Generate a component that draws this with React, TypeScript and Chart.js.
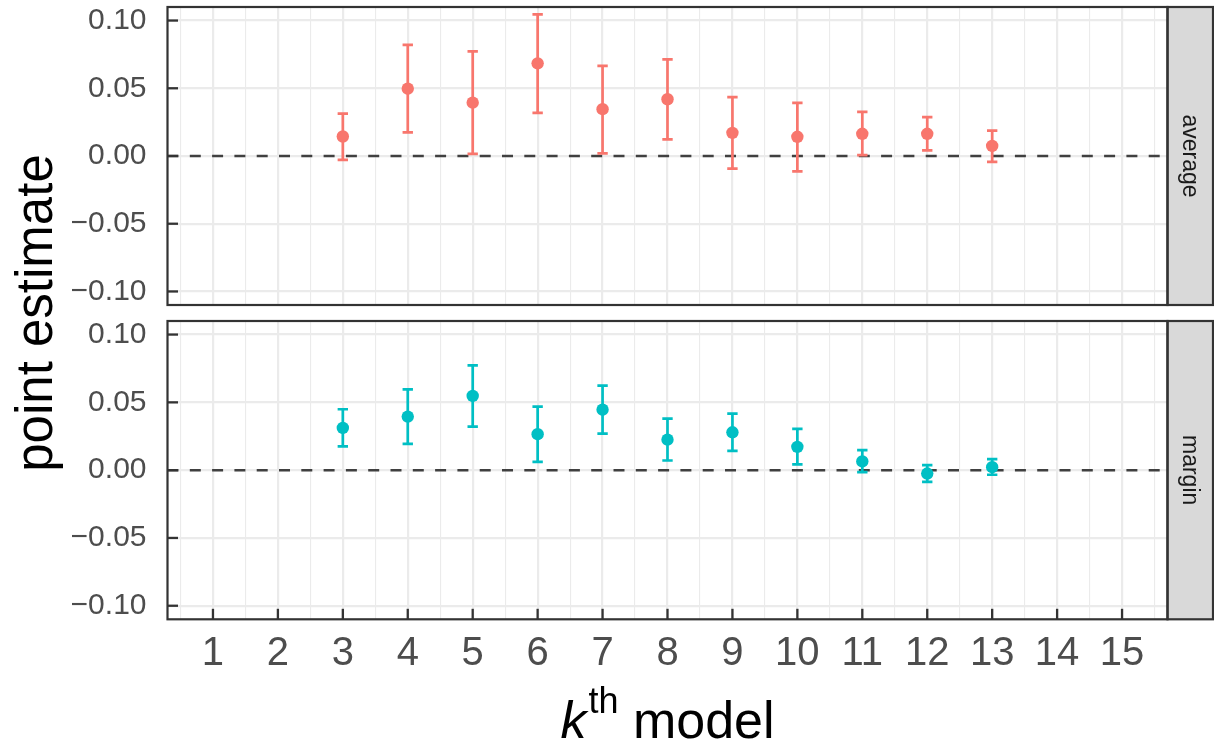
import React, { useEffect, useRef } from 'react';
import { Chart, registerables } from 'chart.js';

Chart.register(...registerables);

// ---------- data ----------
const kModels = [3, 4, 5, 6, 7, 8, 9, 10, 11, 12, 13];

const averageEstimate = [0.0144, 0.0497, 0.0394, 0.0684, 0.0346, 0.0419, 0.0171, 0.0142, 0.0164, 0.0164, 0.0074];
const averageLower = [-0.0029, 0.0174, 0.0015, 0.0318, 0.0019, 0.0122, -0.0093, -0.0113, 0.0007, 0.0041, -0.0044];
const averageUpper = [0.0313, 0.0821, 0.0772, 0.1046, 0.0666, 0.0713, 0.0434, 0.0392, 0.0326, 0.0287, 0.0188];

const marginEstimate = [0.0311, 0.0395, 0.0547, 0.0265, 0.0446, 0.0225, 0.0279, 0.0172, 0.0064, -0.0025, 0.0022];
const marginLower = [0.0176, 0.0194, 0.0321, 0.0061, 0.0270, 0.0071, 0.0142, 0.0042, -0.0015, -0.0086, -0.0034];
const marginUpper = [0.0449, 0.0596, 0.0772, 0.0468, 0.0623, 0.0380, 0.0417, 0.0304, 0.0147, 0.0037, 0.0081];

const xMajorTicks = [1, 2, 3, 4, 5, 6, 7, 8, 9, 10, 11, 12, 13, 14, 15];
const xTickLabels = ['1', '2', '3', '4', '5', '6', '7', '8', '9', '10', '11', '12', '13', '14', '15'];
const xMinorTicks = [0.5, 1.5, 2.5, 3.5, 4.5, 5.5, 6.5, 7.5, 8.5, 9.5, 10.5, 11.5, 12.5, 13.5, 14.5, 15.5];

const yMajorTicks = [-0.1, -0.05, 0, 0.05, 0.1];
const yTickLabels = ['\u22120.10', '\u22120.05', '0.00', '0.05', '0.10'];
const yMinorTicks = [-0.075, -0.025, 0.025, 0.075];

const panelNames = ['average', 'margin'];
const panelColors = ['#F8766D', '#00BFC4'];

// ---------- style ----------
const W = 1214;
const H = 746;
const FONT = '"Liberation Sans", Helvetica, Arial, sans-serif';
const GRID = '#EBEBEB';
const DARK = '#333333';
const X_MIN = 0.3;
const X_MAX = 15.7;
const Y_MIN = -0.11;
const Y_MAX = 0.11;
const CAP_HALF = 0.08;

type Panel = {
  name: string;
  color: string;
  est: number[];
  lower: number[];
  upper: number[];
  top: number;
  bottom: number;
  showX: boolean;
};

function buildTicks(major: number[], minor: number[]) {
  const all = [
    ...major.map((v) => ({ value: v, isMajor: true })),
    ...minor.map((v) => ({ value: v, isMajor: false })),
  ];
  all.sort((a, b) => a.value - b.value);
  return all;
}

function makeChart(canvas: HTMLCanvasElement, panel: Panel) {
  const panelPlugin = {
    id: 'panel_' + panel.name,
    beforeDatasetsDraw(chart: any) {
      const { ctx, chartArea } = chart;
      const xs = chart.scales.x;
      const ys = chart.scales.y;
      ctx.save();
      ctx.beginPath();
      ctx.rect(chartArea.left, chartArea.top, chartArea.right - chartArea.left, chartArea.bottom - chartArea.top);
      ctx.clip();
      // dashed zero line
      const y0 = ys.getPixelForValue(0);
      ctx.strokeStyle = '#404040';
      ctx.lineWidth = 2.5;
      ctx.setLineDash([11, 11.3]);
      ctx.beginPath();
      ctx.moveTo(chartArea.left, y0);
      ctx.lineTo(chartArea.right, y0);
      ctx.stroke();
      ctx.setLineDash([]);
      // error bars
      ctx.strokeStyle = panel.color;
      ctx.lineWidth = 2.7;
      ctx.lineCap = 'butt';
      kModels.forEach((k, i) => {
        const px = xs.getPixelForValue(k);
        const pl = xs.getPixelForValue(k - CAP_HALF);
        const pr = xs.getPixelForValue(k + CAP_HALF);
        const yl = ys.getPixelForValue(panel.lower[i]);
        const yu = ys.getPixelForValue(panel.upper[i]);
        ctx.beginPath();
        ctx.moveTo(px, yl);
        ctx.lineTo(px, yu);
        ctx.moveTo(pl, yl);
        ctx.lineTo(pr, yl);
        ctx.moveTo(pl, yu);
        ctx.lineTo(pr, yu);
        ctx.stroke();
      });
      ctx.restore();
    },
    afterDraw(chart: any) {
      const { ctx, chartArea } = chart;
      const xs = chart.scales.x;
      const ys = chart.scales.y;
      const L = chartArea.left;
      const R = chartArea.right;
      const T = chartArea.top;
      const B = chartArea.bottom;
      ctx.save();
      // inward ticks
      ctx.strokeStyle = DARK;
      ctx.lineWidth = 2.3;
      yMajorTicks.forEach((v) => {
        const py = ys.getPixelForValue(v);
        ctx.beginPath();
        ctx.moveTo(L, py);
        ctx.lineTo(L + 10.5, py);
        ctx.stroke();
      });
      if (panel.showX) {
        xMajorTicks.forEach((v) => {
          const px = xs.getPixelForValue(v);
          ctx.beginPath();
          ctx.moveTo(px, B);
          ctx.lineTo(px, B - 10.5);
          ctx.stroke();
        });
      }
      // strip
      const stripR = W - 1;
      ctx.fillStyle = '#D9D9D9';
      ctx.fillRect(R, T, stripR - R, B - T);
      ctx.strokeStyle = DARK;
      ctx.lineWidth = 2.2;
      ctx.strokeRect(R, T, stripR - R, B - T);
      // panel border
      ctx.strokeRect(L, T, R - L, B - T);
      // strip text
      ctx.save();
      ctx.translate((R + stripR) / 2 - 1, (T + B) / 2);
      ctx.rotate(Math.PI / 2);
      ctx.fillStyle = '#1A1A1A';
      ctx.font = '23px ' + FONT;
      ctx.textAlign = 'center';
      ctx.textBaseline = 'middle';
      ctx.fillText(panel.name, 0, 0);
      ctx.restore();

      if (panel.showX) {
        // y-axis title across both panels
        ctx.save();
        ctx.translate(52, 313);
        ctx.rotate(-Math.PI / 2);
        ctx.fillStyle = '#000000';
        ctx.font = '51px ' + FONT;
        ctx.textAlign = 'center';
        ctx.textBaseline = 'alphabetic';
        ctx.fillText('point estimate', 0, 0);
        ctx.restore();
        // x-axis title: k^th model
        const mainFont = '52px ' + FONT;
        const italFont = 'italic 52px ' + FONT;
        const supFont = '36px ' + FONT;
        ctx.font = italFont;
        const kW = ctx.measureText('k').width;
        ctx.font = supFont;
        const thW = ctx.measureText('th').width;
        ctx.font = mainFont;
        const mW = ctx.measureText(' model').width;
        const total = kW + 2 + thW + mW;
        let x = (L + R) / 2 - total / 2;
        const base = 738;
        ctx.fillStyle = '#000000';
        ctx.textAlign = 'left';
        ctx.textBaseline = 'alphabetic';
        ctx.font = italFont;
        ctx.fillText('k', x, base);
        x += kW + 2;
        ctx.font = supFont;
        ctx.fillText('th', x, base - 25);
        x += thW;
        ctx.font = mainFont;
        ctx.fillText(' model', x, base);
      }
      ctx.restore();
    },
  };

  const isMajorCtx = (c: any) => (c.tick && c.tick.isMajor ? 2.2 : 1.1);

  return new Chart(canvas, {
    type: 'scatter',
    data: {
      datasets: [
        {
          label: panel.name,
          data: kModels.map((k, i) => ({ x: k, y: panel.est[i] })),
          backgroundColor: panel.color,
          borderColor: panel.color,
          borderWidth: 0,
          pointRadius: 6.2,
          pointHoverRadius: 6.2,
        },
      ],
    },
    options: {
      animation: false,
      responsive: false,
      devicePixelRatio: 1,
      events: [],
      layout: {
        padding: { left: 0, right: W - 1167.5, top: panel.top, bottom: panel.showX ? 0 : H - panel.bottom },
      },
      plugins: {
        legend: { display: false },
        tooltip: { enabled: false },
        title: { display: false },
      },
      scales: {
        x: {
          type: 'linear',
          min: X_MIN,
          max: X_MAX,
          afterBuildTicks: (scale: any) => {
            scale.ticks = buildTicks(xMajorTicks, xMinorTicks);
          },
          afterFit: (scale: any) => {
            scale.height = panel.showX ? H - panel.bottom : 0;
            scale.paddingLeft = 0;
            scale.paddingRight = 0;
          },
          grid: {
            color: GRID,
            lineWidth: isMajorCtx,
            drawTicks: false,
          },
          border: { display: false },
          ticks: {
            display: panel.showX,
            autoSkip: false,
            maxRotation: 0,
            minRotation: 0,
            padding: 11,
            color: '#4D4D4D',
            font: { family: FONT, size: 40 },
            callback: (value: any, index: number, ticks: any[]) => {
              const t = ticks[index];
              if (!t || !t.isMajor) return '';
              const j = xMajorTicks.indexOf(t.value);
              return j >= 0 ? xTickLabels[j] : '';
            },
          },
        },
        y: {
          type: 'linear',
          min: Y_MIN,
          max: Y_MAX,
          afterBuildTicks: (scale: any) => {
            scale.ticks = buildTicks(yMajorTicks, yMinorTicks);
          },
          afterFit: (scale: any) => {
            scale.width = 167.5;
            scale.paddingTop = 0;
            scale.paddingBottom = 0;
          },
          grid: {
            color: GRID,
            lineWidth: isMajorCtx,
            drawTicks: false,
          },
          border: { display: false },
          ticks: {
            padding: 21,
            color: '#4D4D4D',
            font: { family: FONT, size: 30 },
            callback: (value: any, index: number, ticks: any[]) => {
              const t = ticks[index];
              if (!t || !t.isMajor) return '';
              const j = yMajorTicks.findIndex((v) => Math.abs(v - t.value) < 1e-9);
              return j >= 0 ? yTickLabels[j] : '';
            },
          },
        },
      },
    },
    plugins: [panelPlugin],
  } as any);
}

export default function App() {
  const topRef = useRef<HTMLCanvasElement>(null);
  const botRef = useRef<HTMLCanvasElement>(null);

  useEffect(() => {
    const panels: Panel[] = [
      { name: panelNames[0], color: panelColors[0], est: averageEstimate, lower: averageLower, upper: averageUpper, top: 7, bottom: 305, showX: false },
      { name: panelNames[1], color: panelColors[1], est: marginEstimate, lower: marginLower, upper: marginUpper, top: 321, bottom: 619.3, showX: true },
    ];
    const c1 = makeChart(topRef.current!, panels[0]);
    const c2 = makeChart(botRef.current!, panels[1]);
    return () => {
      c1.destroy();
      c2.destroy();
    };
  }, []);

  const canvasStyle: React.CSSProperties = { position: 'absolute', left: 0, top: 0, width: W, height: H, display: 'block' };

  return (
    <div style={{ position: 'absolute', left: 0, top: 0, width: W, height: H, background: '#FFFFFF', overflow: 'hidden' }}>
      <canvas ref={botRef} width={W} height={H} style={canvasStyle} />
      <canvas ref={topRef} width={W} height={H} style={canvasStyle} />
    </div>
  );
}
